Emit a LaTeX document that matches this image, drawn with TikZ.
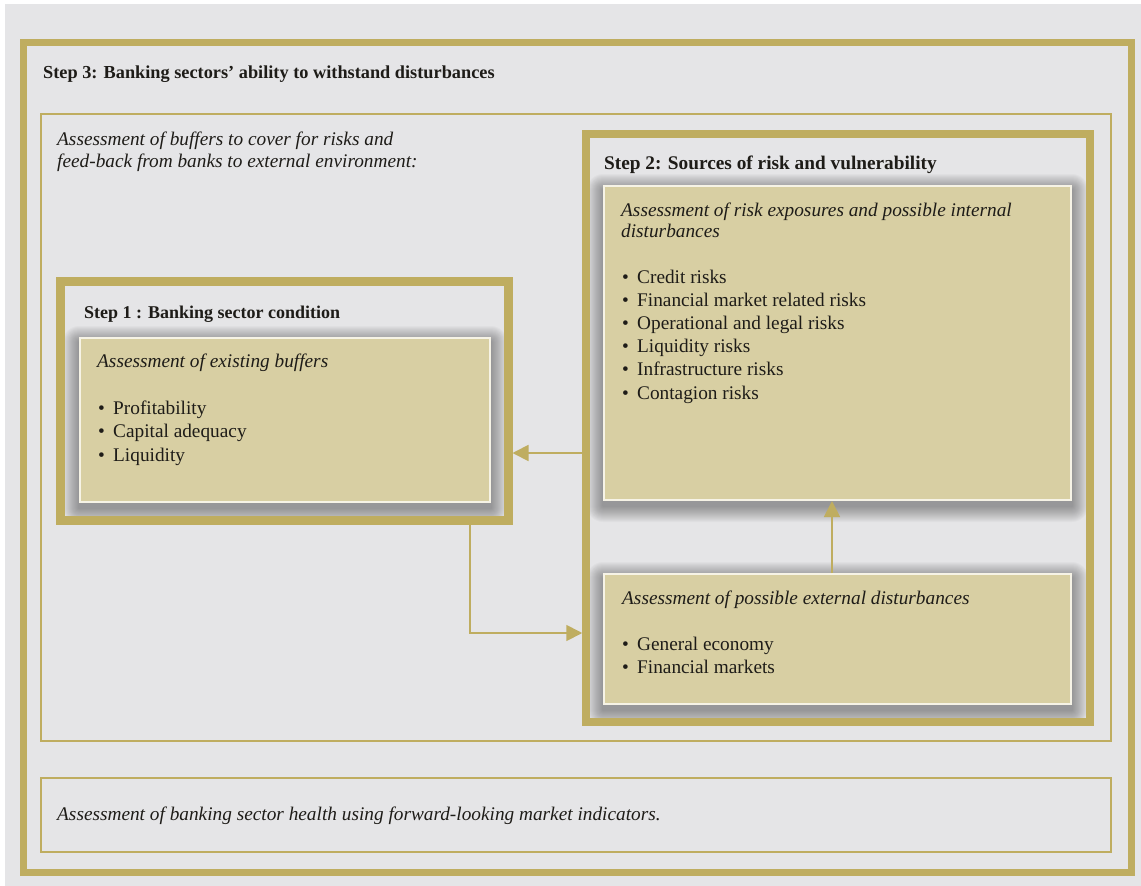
\documentclass[tikz,border=0pt]{standalone}
\usepackage{fontspec}
\setmainfont{Liberation Serif}
\usetikzlibrary{arrows.meta}
\definecolor{gold}{RGB}{191,173,96}
\definecolor{tanfill}{RGB}{216,207,163}
\definecolor{bggray}{RGB}{229,229,231}
\definecolor{rim}{RGB}{246,243,230}
\definecolor{ink}{RGB}{30,28,24}
\pgfdeclarelayer{bglayer}
\pgfdeclarelayer{shadowlayer}
\pgfsetlayers{bglayer,shadowlayer,main}
\newcommand{\bul}{\makebox[15pt][l]{\textbullet}}
\newcommand{\softshadow}[1]{%
  \begin{pgfonlayer}{shadowlayer}
    \foreach \d in {1,...,16}{
      \fill[black!80, opacity=0.032, rounded corners=\d pt]
        ([xshift=-\d pt, yshift={\d pt-5pt}]#1.north west) rectangle
        ([xshift=\d pt, yshift={-\d pt-5pt}]#1.south east);
    }
  \end{pgfonlayer}}
\tikzset{
  frame/.style={draw=gold, line width=8pt, inner sep=0pt, anchor=center},
  thinframe/.style={draw=gold, line width=1.5pt, inner sep=0pt, anchor=center},
  tanbox/.style={fill=tanfill, draw=rim, line width=2pt, inner sep=0pt, anchor=center},
  body/.style={font=\fontsize{19.3pt}{23pt}\selectfont, text=ink, inner sep=0pt, anchor=base west},
  ibody/.style={body, font=\fontsize{19.3pt}{23pt}\selectfont\itshape},
  title/.style={body, font=\fontsize{18.3pt}{22pt}\selectfont\bfseries},
  arr/.style={draw=gold, line width=1.8pt, -{Triangle[length=16pt,width=16pt]}}
}
\begin{document}
\begin{tikzpicture}[x=1pt,y=-1pt]
\useasboundingbox (0,0) rectangle (1141,886);
\begin{pgfonlayer}{bglayer}
\fill[white] (0,0) rectangle (1141,886);
\fill[bggray] (5,4) rectangle (1141,886);
\end{pgfonlayer}

% frames
\node[frame, line width=7pt, minimum width=1108pt, minimum height=830pt] (outer) at (577,457) {};
\node[thinframe, minimum width=1070pt, minimum height=627pt] (s3) at (576,427.5) {};
\node[frame, line width=9pt, minimum width=447.5pt, minimum height=239.5pt] (s1) at (284.25,400.75) {};
\node[frame, line width=7.5pt, minimum width=504pt, minimum height=588pt] (s2) at (838,428) {};
\node[thinframe, minimum width=1070pt, minimum height=74pt] (bot) at (576,815) {};

% tan boxes
\node[tanbox, minimum width=410pt, minimum height=164pt] (exist) at (285,420) {};
\node[tanbox, minimum width=467pt, minimum height=314pt] (risk) at (837.5,343) {};
\node[tanbox, minimum width=467pt, minimum height=130pt] (ext) at (837.5,639) {};
\softshadow{exist}
\softshadow{risk}
\softshadow{ext}

% titles
\node[title] (t3) at (43,78) {Step 3: Banking sectors’ ability to withstand disturbances};
\node[title, font=\fontsize{18pt}{22pt}\selectfont\bfseries] (t1) at (84,318) {Step 1 : Banking sector condition};
\node[title, font=\fontsize{19.3pt}{22pt}\selectfont\bfseries] (t2) at (604,169) {Step 2: Sources of risk and vulnerability};

% step 3 text
\node[ibody] (b1) at (57,145) {Assessment of buffers to cover for risks and};
\node[ibody] (b2) at (57,167) {feed-back from banks to external environment:};

% step 1 box text
\node[ibody] (e0) at (97,367) {Assessment of existing buffers};
\node[body] (e1) at (98,414) {\bul Profitability};
\node[body] (e2) at (98,437.5) {\bul Capital adequacy};
\node[body] (e3) at (98,461) {\bul Liquidity};

% risk box text
\node[ibody] (r0) at (621,216) {Assessment of risk exposures and possible internal};
\node[ibody] (r0b) at (621,237.5) {disturbances};
\node[body] (r1) at (622,283) {\bul Credit risks};
\node[body] (r2) at (622,306.2) {\bul Financial market related risks};
\node[body] (r3) at (622,329.4) {\bul Operational and legal risks};
\node[body] (r4) at (622,352.6) {\bul Liquidity risks};
\node[body] (r5) at (622,375.8) {\bul Infrastructure risks};
\node[body] (r6) at (622,399) {\bul Contagion risks};

% external box text
\node[ibody] (x0) at (622,604) {Assessment of possible external disturbances};
\node[body] (x1) at (622,650) {\bul General economy};
\node[body] (x2) at (622,673) {\bul Financial markets};

% bottom text
\node[ibody] (bt) at (57,820) {Assessment of banking sector health using forward-looking market indicators.};

% connectors
\draw[arr] (s2.west |- 0,453) -- (s1.east |- 0,453);
\draw[arr] (s1.south -| 470,0) |- (s2.west |- 0,633);
\draw[arr] (ext.north -| 832,0) -- (risk.south -| 832,0);
\end{tikzpicture}
\end{document}
